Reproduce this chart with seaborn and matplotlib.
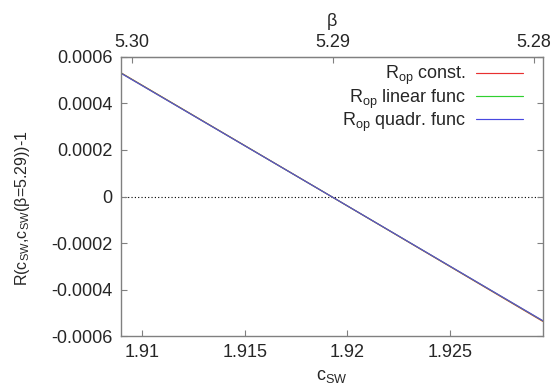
import numpy as np
import pandas as pd
import matplotlib
matplotlib.use("Agg")
import matplotlib.pyplot as plt
import seaborn as sns
from matplotlib.ticker import FuncFormatter, FixedLocator

# ---- data ----
c_sw = [1.90898, 1.91922, 1.92951]
r_const = [0.000532, 0.0000000, -0.000537]
r_linear = [0.000531, 0.0000000, -0.000535]
r_quadr = [0.000530, 0.0000000, -0.000534]
series_names = [r"R$_{op}$ const.", r"R$_{op}$ linear func", r"R$_{op}$ quadr. func"]
series_colors = ["#e83030", "#30d030", "#4848e0"]

beta_ticks = [5.30, 5.29, 5.28]
c_at_beta = [1.9095, 1.91922, 1.92908]

x_ticks = [1.91, 1.915, 1.92, 1.925]
y_ticks = [-0.0006, -0.0004, -0.0002, 0, 0.0002, 0.0004, 0.0006]

df = pd.DataFrame({
    "c": c_sw * 3,
    "R": r_const + r_linear + r_quadr,
    "series": sum([[n] * len(c_sw) for n in series_names], []),
})

sns.set_style("ticks")
plt.rcParams["font.family"] = ["Liberation Sans", "DejaVu Sans"]
plt.rcParams["mathtext.default"] = "regular"

FS = 13

fig = plt.figure(figsize=(5.55, 3.89), dpi=100)
ax = fig.add_axes([0.218, 0.1362, 0.760, 0.7173])

sns.lineplot(data=df, x="c", y="R", hue="series", palette=series_colors,
             hue_order=series_names, ax=ax, linewidth=0.85, legend=True)
ax.axhline(0, color="black", lw=0.8, ls=(0, (1, 2)), zorder=0)

ax.set_xlim(1.90898, 1.92951)
ax.set_ylim(-0.0006, 0.0006)
ax.xaxis.set_major_locator(FixedLocator(x_ticks))
ax.yaxis.set_major_locator(FixedLocator(y_ticks))
ax.xaxis.set_major_formatter(FuncFormatter(lambda v, p: "%g" % round(v, 6)))
ax.yaxis.set_major_formatter(FuncFormatter(lambda v, p: "%g" % round(v, 6)))
ax.tick_params(direction="in", length=4, width=0.8, color="#808080",
               labelsize=FS, right=True, pad=6)
for s in ax.spines.values():
    s.set_color("#808080")
    s.set_linewidth(1.0)

ax.set_xlabel(r"c$_{SW}$", fontsize=FS, labelpad=5)
ax.set_ylabel(r"R(c$_{SW}$,c$_{SW}$($\beta$=5.29))-1", fontsize=11.5)
ax.yaxis.set_label_coords(-0.212, 0.46)

# top beta axis
def c_to_beta(c):
    c = np.asarray(c, dtype=float)
    slope = (beta_ticks[-1] - beta_ticks[0]) / (c_at_beta[-1] - c_at_beta[0])
    return beta_ticks[0] + (c - c_at_beta[0]) * slope

def beta_to_c(b):
    b = np.asarray(b, dtype=float)
    slope = (c_at_beta[-1] - c_at_beta[0]) / (beta_ticks[-1] - beta_ticks[0])
    return c_at_beta[0] + (b - beta_ticks[0]) * slope

sec = ax.secondary_xaxis("top", functions=(c_to_beta, beta_to_c))
sec.xaxis.set_major_locator(FixedLocator(beta_ticks))
sec.xaxis.set_major_formatter(FuncFormatter(lambda v, p: "%.2f" % v))
sec.tick_params(direction="in", length=4, width=0.8, color="#808080",
                labelsize=FS, pad=4)
sec.spines["top"].set_color("#808080")
sec.set_xlabel(r"$\beta$", fontsize=FS, labelpad=6)

leg = ax.legend(loc="upper right", frameon=False, markerfirst=False,
                fontsize=FS, handlelength=2.6, handletextpad=0.55,
                labelspacing=0.0, borderaxespad=0.0,
                bbox_to_anchor=(0.97, 1.0))
for t in leg.get_texts():
    t.set_ha("right")

# blended appearance of the overlapping curves (legend keeps pure colours)
ax.get_lines()[2].set_color("#6048d0")

fig.savefig("out.png", dpi=100)
